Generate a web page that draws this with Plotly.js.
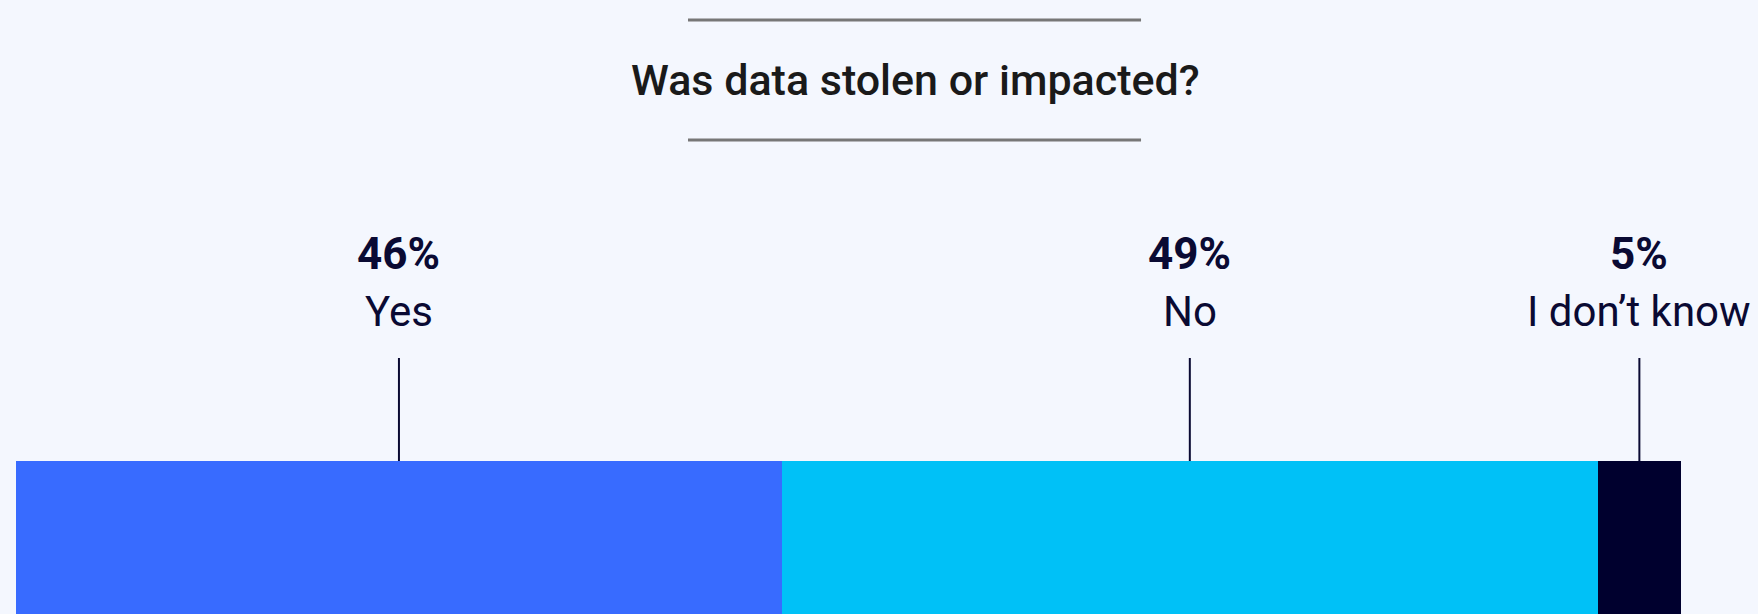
<!DOCTYPE html>
<html>
<head>
<meta charset="utf-8">
<script src="https://cdn.plot.ly/plotly-3.0.1.min.js"></script>
<style>html,body{margin:0;padding:0;background:#F4F7FE;}#chart{width:1758px;height:614px;}</style>
</head>
<body>
<div id="chart"></div>
<script>
const chartTitle = 'Was data stolen or impacted?';
const categories = ['Yes', 'No', 'I don\u2019t know'];
const values = [46, 49, 5];
const colors = ['#386BFF', '#00C1F7', '#00002E'];

const navy = '#0A0A33';
const traces = [];
const annotations = [];
const shapes = [];
let cum = 0;
categories.forEach((c, i) => {
  traces.push({
    type: 'bar', orientation: 'h',
    x: [values[i]], y: [0], width: 1,
    name: c, marker: {color: colors[i], line: {width: 0}},
    hoverinfo: 'skip'
  });
  const mid = cum + values[i] / 2;
  cum += values[i];
  annotations.push({
    xref: 'x', yref: 'paper', x: mid, y: 1, yanchor: 'middle', xanchor: 'center',
    yshift: 207, showarrow: false, text: '<b>' + values[i] + '%</b>',
    font: {family: 'Roboto', size: 44, color: navy}
  });
  annotations.push({
    xref: 'x', yref: 'paper', x: mid, y: 1, yanchor: 'middle', xanchor: 'center',
    yshift: 150, showarrow: false, text: c,
    font: {family: 'Roboto', size: 42, color: navy}
  });
  shapes.push({
    type: 'line', xref: 'x', yref: 'paper', x0: mid, x1: mid, y0: 1, y1: 1 + 103 / 153,
    line: {color: navy, width: 2}
  });
});

annotations.push({
  xref: 'paper', yref: 'paper', x: 0.54, y: 1 + 381 / 153, xanchor: 'center', yanchor: 'middle',
  showarrow: false, text: chartTitle,
  font: {family: 'Roboto', size: 43, color: '#1A1A1A', weight: 500}
});
[1 + 441 / 153, 1 + 321 / 153].forEach(yy => shapes.push({
  type: 'line', xref: 'paper', yref: 'paper', x0: 0.4036, x1: 0.6757, y0: yy, y1: yy,
  line: {color: '#777777', width: 3}
}));

const layout = {
  width: 1758, height: 614,
  margin: {l: 16, r: 77, t: 461, b: 0, pad: 0},
  paper_bgcolor: '#F4F7FE', plot_bgcolor: '#F4F7FE',
  barmode: 'stack', showlegend: false,
  xaxis: {range: [0, 100], visible: false, fixedrange: true},
  yaxis: {range: [-0.5, 0.5], visible: false, fixedrange: true},
  annotations: annotations, shapes: shapes
};
Plotly.newPlot('chart', traces, layout, {displayModeBar: false, staticPlot: true});
</script>
</body>
</html>
